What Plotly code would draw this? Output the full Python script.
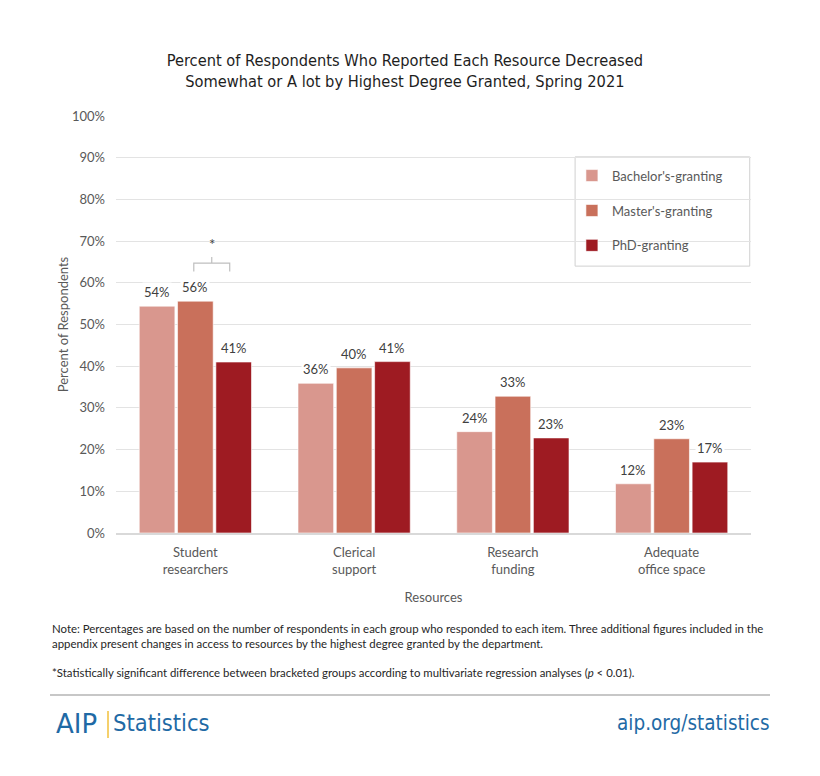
import plotly.graph_objects as go

categories = ["Student<br>researchers", "Clerical<br>support", "Research<br>funding", "Adequate<br>office space"]
series_names = ["Bachelor's-granting", "Master's-granting", "PhD-granting"]
bachelor = [54.4, 35.9, 24.3, 11.8]
master = [55.6, 39.6, 32.8, 22.6]
phd = [41.0, 41.1, 22.8, 17.0]
series_values = [bachelor, master, phd]
colors = ["#D9978E", "#C9705B", "#9E1B22"]
y_ticks = list(range(0, 101, 10))
y_tick_labels = [f"{v}%" for v in y_ticks]

BODY = "Lato, 'Open Sans', sans-serif"
TITLE = "'DejaVu Sans Condensed', sans-serif"
GREY = "#595959"
BARGAP = 0.276
BARGROUPGAP = 0.07

fig = go.Figure()
for i, (name, vals) in enumerate(zip(series_names, series_values)):
    fig.add_trace(go.Bar(
        x=categories, y=vals, name=name,
        marker=dict(color=colors[i], line=dict(color="rgba(255,255,255,0.6)", width=1)),
        legendgroup=name,
        hoverinfo="skip",
    ))

# value labels with white background
slot = (1 - BARGAP) / 3
offsets = [-slot, 0, slot]
for i, vals in enumerate(series_values):
    for j, v in enumerate(vals):
        fig.add_annotation(
            x=j + offsets[i], y=v, xref="x", yref="y",
            text=f"{round(v)}%", showarrow=False, yanchor="bottom", yshift=4,
            bgcolor="white", borderpad=1,
            font=dict(family=BODY, size=13, color="#404040"),
        )

# significance bracket between master and PhD (Student researchers)
x0 = 0 + offsets[1] - 0.01
x1 = 0 + offsets[2] - 0.025
xm = (x0 + x1) / 2
yb, yh, yt = 62.7, 64.7, 66.2
fig.add_shape(type="path", xref="x", yref="y",
              path=f"M {x0} {yb} L {x0} {yh} L {x1} {yh} L {x1} {yb} M {xm} {yh} L {xm} {yt}",
              line=dict(color="#bfbfbf", width=1.2))
fig.add_annotation(x=xm, y=yt + 0.4, xref="x", yref="y", text="*", showarrow=False,
                   yanchor="bottom", font=dict(family=BODY, size=15, color="#404040"))

# legend box
fig.add_shape(type="rect", xref="paper", yref="paper", x0=0.723, x1=0.998, y0=0.640, y1=0.902,
              line=dict(color="#d0d0d0", width=1), fillcolor="white", layer="below")

fig.update_layout(
    width=820, height=776,
    paper_bgcolor="white", plot_bgcolor="white",
    margin=dict(l=108, r=77, t=108, b=251),
    barmode="group", bargap=BARGAP, bargroupgap=BARGROUPGAP,
    title=dict(
        text="Percent of Respondents Who Reported Each Resource Decreased<br>Somewhat or A lot by Highest Degree Granted, Spring 2021",
        x=0.484, xanchor="center", y=0.925, yanchor="middle",
        font=dict(family=TITLE, size=16.3, color="#1e1e1e"),
    ),
    font=dict(family=BODY, color=GREY),
    showlegend=True,
    legend=dict(x=0.718, xanchor="left", y=0.893, yanchor="top",
                bgcolor="rgba(0,0,0,0)", borderwidth=0,
                font=dict(family=BODY, size=13, color=GREY),
                tracegroupgap=15, itemwidth=30),
    xaxis=dict(
        showline=True, linecolor="#d9d9d9", linewidth=1.5,
        tickfont=dict(family=BODY, size=13, color=GREY),
        ticklabelstandoff=7,
        title=dict(text="Resources", font=dict(family=BODY, size=13, color=GREY), standoff=17),
        ticks="",
    ),
    yaxis=dict(
        range=[0, 100], tickvals=y_ticks, ticktext=y_tick_labels,
        gridcolor="#e3e3e3", gridwidth=1, zeroline=False,
        tickfont=dict(family=BODY, size=13, color=GREY),
        ticklabelstandoff=10,
        title=dict(text="Percent of Respondents", font=dict(family=BODY, size=13, color=GREY), standoff=0),
        ticklen=0, ticks="",
    ),
)

NOTE = ("Note: Percentages are based on the number of respondents in each group who responded to each item. "
        "Three additional figures included in the<br>appendix present changes in access to resources by the "
        "highest degree granted by the department.")
STAR = ("*Statistically significant difference between bracketed groups according to multivariate regression "
        "analyses (<i>p</i> < 0.01).")
fig.add_annotation(xref="paper", yref="paper", x=(50 - 116) / 635, y=(533 - 620) / 417,
                   xanchor="left", yanchor="top", align="left", showarrow=False,
                   text=NOTE, font=dict(family=BODY, size=11.4, color="#262626"))
fig.add_annotation(xref="paper", yref="paper", x=(50 - 116) / 635, y=(533 - 664) / 417,
                   xanchor="left", yanchor="top", align="left", showarrow=False,
                   text=STAR, font=dict(family=BODY, size=11.4, color="#262626"))

# footer line
fig.add_shape(type="line", xref="paper", yref="paper",
              x0=(50 - 116) / 635, x1=(770 - 116) / 635, y0=(533 - 695) / 417, y1=(533 - 695) / 417,
              line=dict(color="#b5b5b5", width=1.5))

BLUE = "#1F6AA5"
fig.add_annotation(xref="paper", yref="paper", x=(54 - 116) / 635, y=(533 - 724) / 417,
                   xanchor="left", yanchor="middle", showarrow=False,
                   text="AIP", font=dict(family="'DejaVu Sans', sans-serif", size=26, color=BLUE))
fig.add_shape(type="line", xref="paper", yref="paper",
              x0=(108 - 116) / 635, x1=(108 - 116) / 635, y0=(533 - 711) / 417, y1=(533 - 738) / 417,
              line=dict(color="#F2C13B", width=1.5))
fig.add_annotation(xref="paper", yref="paper", x=(111 - 116) / 635, y=(533 - 723) / 417,
                   xanchor="left", yanchor="middle", showarrow=False,
                   text="Statistics", font=dict(family=TITLE, size=23.5, color=BLUE))
fig.add_annotation(xref="paper", yref="paper", x=(772 - 116) / 635, y=(533 - 723) / 417,
                   xanchor="right", yanchor="middle", showarrow=False,
                   text="aip.org/statistics", font=dict(family=TITLE, size=20.5, color=BLUE))

fig.write_html("out.html")
